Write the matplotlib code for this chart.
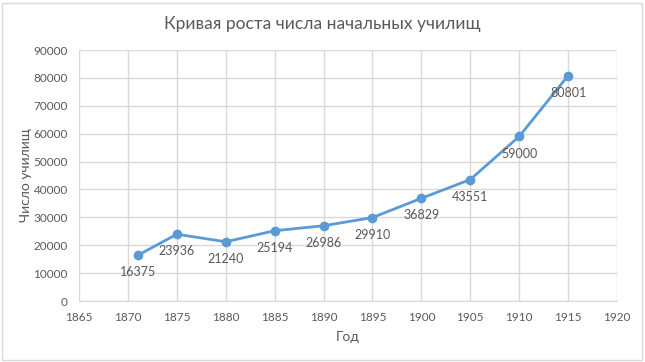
import matplotlib.pyplot as plt
from matplotlib.patches import Rectangle

years = [1871, 1875, 1880, 1885, 1890, 1895, 1900, 1905, 1910, 1915]
schools = [16375, 23936, 21240, 25194, 26986, 29910, 36829, 43551, 59000, 80801]

grey = '#595959'
grid = '#d9d9d9'
plt.rcParams['font.family'] = ['Lato', 'DejaVu Sans']

fig = plt.figure(figsize=(6.45, 3.62), dpi=100)
ax = fig.add_axes([79/645, 1 - 301/362, 538/645, 251/362])

ax.plot(years, schools, color='#5b9bd5', lw=2, marker='o', ms=6, zorder=3)
for x, y in zip(years, schools):
    ax.annotate(str(y), (x, y), xytext=(0, -8), textcoords='offset points',
                ha='center', va='top', fontsize=9, color=grey)

ax.set_xlim(1865, 1920)
ax.set_ylim(0, 90000)
ax.set_xticks(range(1865, 1921, 5))
ax.set_yticks(range(0, 90001, 10000))
ax.grid(True, color=grid, lw=1)
ax.set_axisbelow(True)
for s in ax.spines.values():
    s.set_visible(False)
ax.spines['bottom'].set_visible(True)
ax.spines['bottom'].set_color(grid)
ax.tick_params(length=0, labelsize=8.5, labelcolor=grey, pad=8)

ax.set_xlabel('Год', fontsize=10, color=grey, labelpad=6)
ax.set_ylabel('Число училищ', fontsize=10, color=grey)
ax.yaxis.set_label_coords(-0.087, 0.5)
fig.text(0.5, 1 - 24/362, 'Кривая роста числа начальных училищ', ha='center',
         va='center', fontsize=12.5, color=grey)

fig.patches.append(Rectangle((2/645, 2/362), 640/645, 357/362, transform=fig.transFigure,
                             fill=False, edgecolor=grid, lw=1))

fig.savefig('out.png', dpi=100)
